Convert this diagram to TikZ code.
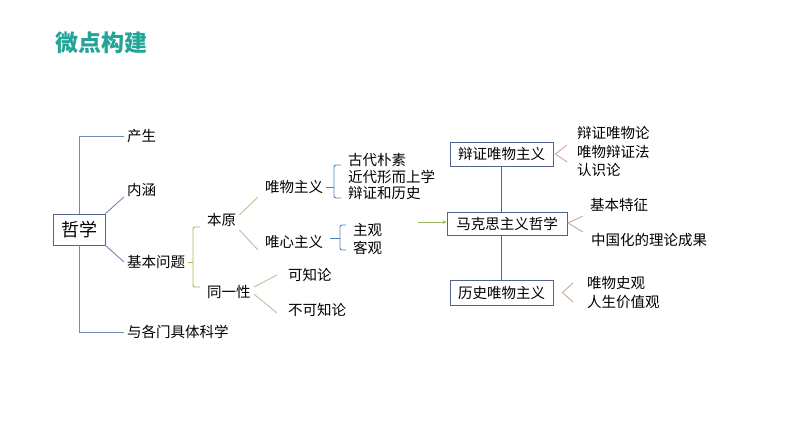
\documentclass[tikz,border=0pt]{standalone}
\usepackage{fontspec}
\setmainfont{Noto Sans CJK SC}
\usetikzlibrary{arrows.meta}
\definecolor{titleteal}{RGB}{34,164,150}
\definecolor{mainline}{RGB}{118,134,182}
\definecolor{boxline}{RGB}{84,98,142}
\definecolor{greenline}{RGB}{155,187,89}
\definecolor{oliveline}{RGB}{196,189,151}
\definecolor{blueline}{RGB}{79,129,189}
\definecolor{tanline}{RGB}{200,168,158}
\tikzset{
  lbl/.style={anchor=west, inner xsep=3pt, inner ysep=0pt, font=\fontsize{14.5}{16}\selectfont},
  termbox/.style={draw=boxline, line width=0.9pt, minimum height=24pt, inner xsep=0pt, font=\fontsize{14.5}{16}\selectfont},
}
\begin{document}
\begin{tikzpicture}[x=1pt,y=-1pt]
\useasboundingbox (0,0) rectangle (794,447);
\node[font=\fontsize{23}{25}\selectfont\bfseries, text=titleteal] (title) at (101,43) {微点构建};
% left part
\node[draw=boxline, line width=0.9pt, minimum width=52pt, minimum height=31pt, inner sep=0pt, font=\fontsize{18}{20}\selectfont] (zx) at (79,229.5) {哲学};
\node[lbl] (cs) at (124,136) {产生};
\node[lbl] (nh) at (124,190) {内涵};
\node[lbl] (jbwt) at (124,262) {基本问题};
\node[lbl] (ygm) at (124,332) {与各门具体科学};
\draw[mainline, line width=0.9pt] (zx.north) -- (zx.north |- cs.west) -- (cs.west);
\draw[mainline, line width=0.9pt] (zx.south) -- (zx.south |- ygm.west) -- (ygm.west);
\draw[mainline, line width=0.9pt] (zx.north east) -- ([yshift=-7pt]nh.west);
\draw[mainline, line width=0.9pt] (zx.south east) -- (jbwt.west);
% basic question
\node[lbl] (by) at (204,220) {本原};
\node[lbl] (tyx) at (204,292) {同一性};
\draw[greenline, line width=0.9pt] (jbwt.east) -- (193,262);
\draw[greenline, line width=0.9pt, rounded corners=2pt] (200,227) -- (193,227) -- (193,287) -- (200,287);
\node[lbl] (wwzy) at (262,187) {唯物主义};
\node[lbl] (wxzy) at (262,242) {唯心主义};
\draw[oliveline, line width=0.9pt] ([yshift=5pt]by.east) -- ([xshift=-4pt,yshift=-10pt]wwzy.west);
\draw[oliveline, line width=0.9pt] ([yshift=-10pt]by.east) -- ([xshift=-4pt,yshift=-8pt]wxzy.west);
\node[lbl] (gd) at (345,160) {古代朴素};
\node[lbl] (jd) at (345,177) {近代形而上学};
\node[lbl] (bz) at (345,193) {辩证和历史};
\draw[blueline, line width=0.9pt] (wwzy.east) -- (334,187);
\draw[blueline, line width=0.9pt, rounded corners=2pt] (341,165) -- (334,165) -- (334,198) -- (341,198);
\node[lbl] (zg) at (350,230) {主观};
\node[lbl] (kg) at (350,248) {客观};
\draw[blueline, line width=0.9pt] ([xshift=4pt,yshift=4pt]wxzy.east) -- (340,238);
\draw[blueline, line width=0.9pt, rounded corners=2pt] (346,225) -- (340,225) -- (340,250) -- (346,250);
\node[lbl] (kzl) at (285,275) {可知论};
\node[lbl] (bkzl) at (285,310) {不可知论};
\draw[oliveline, line width=0.9pt] ([yshift=5pt]tyx.east) -- ([xshift=-8pt]kzl.west);
\draw[oliveline, line width=0.9pt] ([yshift=-2pt]tyx.east) -- ([xshift=-8pt,yshift=-3pt]bkzl.west);
% marxist philosophy
\node[termbox, minimum width=103pt] (bzwz) at (501.5,154) {辩证唯物主义};
\node[termbox, minimum width=120pt, minimum height=23pt] (mks) at (507,223.5) {马克思主义哲学};
\node[termbox, minimum width=103pt, minimum height=25pt] (lswz) at (501.5,292.5) {历史唯物主义};
\coordinate (arrstart) at (418,222);
\draw[greenline, line width=0.9pt, -{Stealth[length=4pt,width=4pt]}] (arrstart) -- (arrstart -| mks.west);
\draw[boxline, line width=0.9pt] (bzwz.south) -- (bzwz.south |- mks.north);
\draw[boxline, line width=0.9pt] (bzwz.south |- mks.south) -- (lswz.north);
\node[lbl] (bzwl) at (574,133) {辩证唯物论};
\node[lbl] (wwbz) at (574,152) {唯物辩证法};
\node[lbl] (rsl) at (574,170) {认识论};
\node[lbl] (jbtz) at (587,205) {基本特征};
\node[lbl] (zgh) at (588,240) {中国化的理论成果};
\node[lbl] (wwsg) at (584,283) {唯物史观};
\node[lbl] (rsjz) at (584,302) {人生价值观};
\draw[tanline, line width=0.9pt] (567,145) -- ([xshift=2pt]bzwz.east) -- (567,162);
\draw[tanline, line width=0.9pt] (583,216) -- (568,223) -- (583,232);
\draw[tanline, line width=0.9pt] (573,283) -- ([xshift=9pt]lswz.east) -- (573,302);
\end{tikzpicture}
\end{document}
